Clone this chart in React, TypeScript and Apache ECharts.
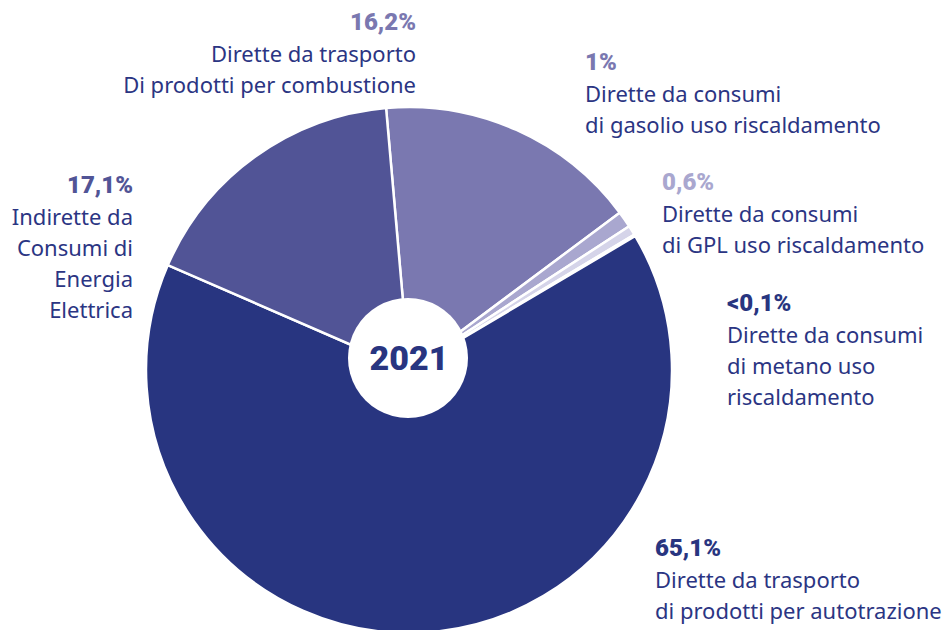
import React, { useEffect, useRef } from "react";
import * as echarts from "echarts";

const categories = [
  "Dirette da trasporto di prodotti per combustione",
  "Dirette da consumi di gasolio uso riscaldamento",
  "Dirette da consumi di GPL uso riscaldamento",
  "Dirette da consumi di metano uso riscaldamento",
  "Dirette da trasporto di prodotti per autotrazione",
  "Indirette da Consumi di Energia Elettrica",
];
const labelTexts = [
  "Dirette da trasporto\nDi prodotti per combustione",
  "Dirette da consumi\ndi gasolio uso riscaldamento",
  "Dirette da consumi\ndi GPL uso riscaldamento",
  "Dirette da consumi\ndi metano uso\nriscaldamento",
  "Dirette da trasporto\ndi prodotti per autotrazione",
  "Indirette da\nConsumi di\nEnergia\nElettrica",
];
const values = [16.2, 1, 0.6, 0.1, 65.1, 17.1];
const percentLabels = ["16,2%", "1%", "0,6%", "<0,1%", "65,1%", "17,1%"];
const yearLabel = "2021";

const sliceColors = ["#7a78b0", "#a9a7cf", "#d5d4e9", "#e6e6f2", "#283580", "#515496"];
const percentColors = ["#7a78b0", "#7a78b0", "#a9a7cf", "#283580", "#283580", "#515496"];
const labelAnchors: [number, number, "left" | "right"][] = [
  [416, 6.5, "right"],
  [585, 46.5, "left"],
  [662, 166.5, "left"],
  [727, 287.5, "left"],
  [655, 532.5, "left"],
  [133, 169.5, "right"],
];

const TEXT = "#2b3583";
const FONT = "Roboto";
const BODY_FONT = "'Noto Sans'";

export default function App() {
  const ref = useRef<HTMLDivElement>(null);
  useEffect(() => {
    document.body.style.margin = "0";
    const chart = echarts.init(ref.current!, null, { renderer: "svg" });
    const data = values.map((v, i) => ({
      value: v,
      name: categories[i],
      itemStyle: { color: sliceColors[i] },
      label: {
        formatter: () =>
          `{p|${percentLabels[i]}}\n` +
          labelTexts[i]
            .split("\n")
            .map((l) => `{t|${l}}`)
            .join("\n"),
        rich: {
          p: {
            color: percentColors[i],
            fontFamily: FONT,
            fontWeight: 900,
            fontSize: 24,
            lineHeight: 31,
            align: labelAnchors[i][2],
          },
          t: {
            color: TEXT,
            fontFamily: BODY_FONT,
            fontSize: 22,
            lineHeight: 31,
            align: labelAnchors[i][2],
          },
        },
      },
    }));
    chart.setOption({
      animation: false,
      backgroundColor: "#ffffff",
      series: [
        {
          type: "pie",
          center: [409, 370],
          radius: 263,
          startAngle: 95,
          clockwise: true,
          avoidLabelOverlap: false,
          itemStyle: { borderColor: "#ffffff", borderWidth: 2.5 },
          label: { show: true, position: "outside" },
          labelLine: { show: false },
          emphasis: { disabled: true },
          labelLayout: (params: any) => {
            const a = labelAnchors[params.dataIndex];
            return { x: a[0], y: a[1], align: a[2], verticalAlign: "top" };
          },
          data,
        },
      ],
      graphic: [
        {
          type: "circle",
          shape: { cx: 408, cy: 358, r: 60 },
          style: { fill: "#ffffff" },
          z: 100,
        },
        {
          type: "text",
          x: 409,
          y: 358,
          z: 101,
          style: {
            text: yearLabel,
            fill: "#283580",
            font: `900 34px ${FONT}`,
            textAlign: "center",
            textVerticalAlign: "middle",
          },
        },
      ],
    });
    return () => chart.dispose();
  }, []);
  return <div ref={ref} style={{ width: 946, height: 630 }} />;
}
